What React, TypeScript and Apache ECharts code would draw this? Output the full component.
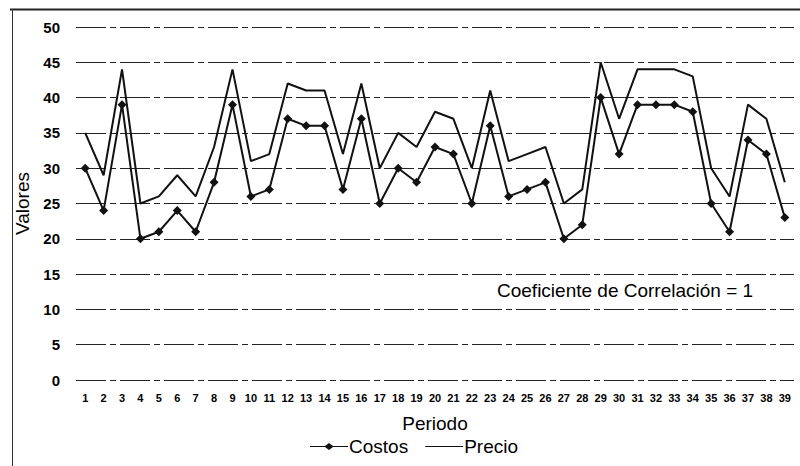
import React, { useEffect, useRef } from "react";
import * as echarts from "echarts";

const periods = Array.from({ length: 39 }, (_, i) => String(i + 1));
const costos = [30, 24, 39, 20, 21, 24, 21, 28, 39, 26, 27, 37, 36, 36, 27, 37, 25, 30, 28, 33, 32, 25, 36, 26, 27, 28, 20, 22, 40, 32, 39, 39, 39, 38, 25, 21, 34, 32, 23];
const precio = [35, 29, 44, 25, 26, 29, 26, 33, 44, 31, 32, 42, 41, 41, 32, 42, 30, 35, 33, 38, 37, 30, 41, 31, 32, 33, 25, 27, 45, 37, 44, 44, 44, 43, 30, 26, 39, 37, 28];

const FONT = "Liberation Sans, Arial, sans-serif";

export default function App() {
  const ref = useRef<HTMLDivElement>(null);
  useEffect(() => {
    if (!ref.current) return;
    const chart = echarts.init(ref.current, null, { renderer: "svg" });
    chart.setOption({
      animation: false,
      backgroundColor: "#fff",
      grid: { left: 76, right: 6, top: 27, bottom: 86 },
      graphic: [
        { type: "line", shape: { x1: 10, y1: 9.5, x2: 800, y2: 9.5 }, style: { stroke: "#222", lineWidth: 2 } },
        { type: "line", shape: { x1: 12.5, y1: 9, x2: 12.5, y2: 466 }, style: { stroke: "#333", lineWidth: 1 } },
        {
          type: "text",
          left: 497,
          top: 281,
          style: { text: "Coeficiente de Correlación = 1", fontFamily: FONT, fontSize: 19, fill: "#000" },
        },
      ],
      legend: {
        top: 432,
        left: 305,
        itemGap: 17,
        itemWidth: 38,
        itemHeight: 10,
        textStyle: { fontFamily: FONT, fontSize: 19, color: "#000", padding: [0, 0, 0, -4] },
        data: [
          { name: "Costos", icon: "path://M0,4.5 H15 L19,1.5 L23,4.5 H38 V5.5 H23 L19,8.5 L15,5.5 H0 Z" },
          { name: "Precio", icon: "path://M0,4.5 H38 V5.5 H0 Z" },
        ],
      },
      xAxis: {
        type: "category",
        data: periods,
        boundaryGap: true,
        name: "Periodo",
        nameLocation: "middle",
        nameGap: 34,
        nameTextStyle: { fontFamily: FONT, fontSize: 19, color: "#000" },
        axisLine: { show: false },
        axisTick: { show: false },
        axisLabel: { interval: 0, fontFamily: FONT, fontSize: 11, fontWeight: "bold", color: "#000", margin: 12 },
      },
      yAxis: {
        type: "value",
        min: 0,
        max: 50,
        interval: 5,
        name: "Valores",
        nameLocation: "middle",
        nameGap: 30,
        nameTextStyle: { fontFamily: FONT, fontSize: 19, color: "#000" },
        axisLine: { show: false },
        axisTick: { show: false },
        axisLabel: { fontFamily: FONT, fontSize: 15, fontWeight: "bold", color: "#000", margin: 16 },
        splitLine: { lineStyle: { color: "#222", width: 1, type: [30, 4, 6, 4] } },
      },
      series: [
        {
          name: "Costos",
          type: "line",
          data: costos,
          symbol: "diamond",
          symbolSize: 9,
          lineStyle: { color: "#111", width: 2 },
          itemStyle: { color: "#111" },
        },
        {
          name: "Precio",
          type: "line",
          data: precio,
          symbol: "none",
          lineStyle: { color: "#111", width: 2 },
          itemStyle: { color: "#111" },
        },
      ],
    });
    return () => chart.dispose();
  }, []);
  return <div ref={ref} style={{ width: 800, height: 466, position: "absolute", left: 0, top: 0 }} />;
}
